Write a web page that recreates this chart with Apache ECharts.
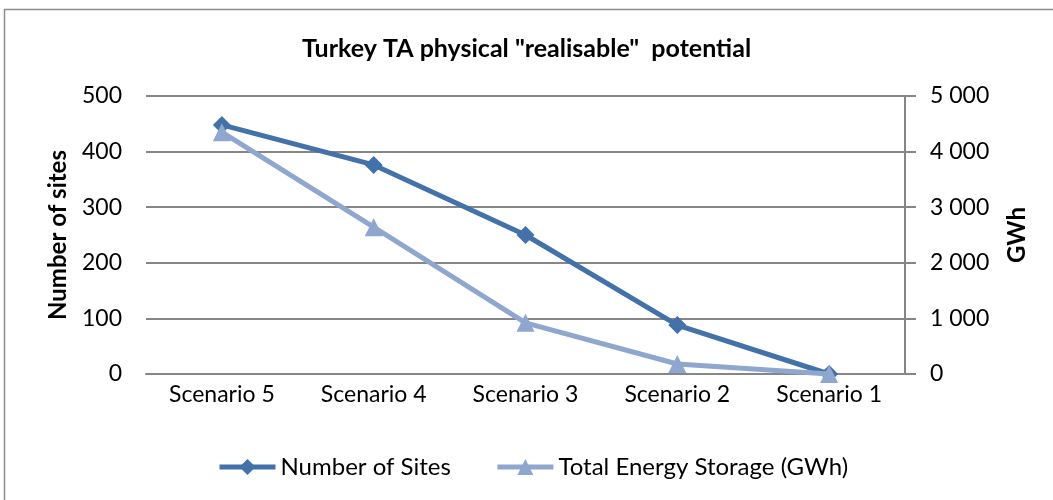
<!DOCTYPE html>
<html>
<head>
<meta charset="utf-8">
<script src="https://cdn.jsdelivr.net/npm/echarts@6/dist/echarts.min.js"></script>
<style>
  html, body { margin: 0; padding: 0; background: #fff; }
  #chart { width: 1053px; height: 500px; }
</style>
</head>
<body>
<div id="chart"></div>
<script>
const scenarios = ['Scenario 5', 'Scenario 4', 'Scenario 3', 'Scenario 2', 'Scenario 1']
const numberOfSites = [448, 376, 250, 88, 0]
const energyStorage = [4350, 2640, 920, 180, 0]
const leftTicks = { min: 0, max: 500, interval: 100 }
const rightTicks = { min: 0, max: 5000, interval: 1000 }

const FONT = 'Lato'
const axisGray = '#868686'

const chart = echarts.init(document.getElementById('chart'))

function spaced(v) {
  return String(v).replace(/\B(?=(\d{3})+(?!\d))/g, ' ')
}

chart.setOption({
  animation: false,
  textStyle: { fontFamily: FONT, color: '#000' },
  title: {
    text: 'Turkey TA physical "realisable"  potential',
    left: 'center',
    top: 31,
    textStyle: { fontFamily: FONT, fontSize: 25, fontWeight: 'bold', color: '#000' }
  },
  graphic: [{
    type: 'rect',
    shape: { x: 4.5, y: 9.5, width: 1100, height: 600 },
    style: { fill: 'none', stroke: '#8c8c8c', lineWidth: 1.5 },
    silent: true
  }],
  legend: {
    bottom: 16,
    left: 212,
    itemGap: 44,
    itemWidth: 56,
    itemHeight: 20,
    lineStyle: { width: 5 },
    textStyle: { fontFamily: FONT, fontSize: 24, color: '#000' },
    data: ['Number of Sites', 'Total Energy Storage (GWh)']
  },
  grid: { left: 146, right: 148, top: 96, bottom: 126 },
  xAxis: {
    type: 'category',
    data: scenarios,
    boundaryGap: true,
    axisLine: { show: true, lineStyle: { color: axisGray, width: 2 } },
    axisTick: { show: false },
    axisLabel: { fontFamily: FONT, fontSize: 23, color: '#000', margin: 9 }
  },
  yAxis: [
    {
      type: 'value',
      ...leftTicks,
      name: 'Number of sites',
      nameLocation: 'middle',
      nameGap: 76,
      nameTextStyle: { fontFamily: FONT, fontSize: 24, fontWeight: 'bold', color: '#000' },
      axisLine: { show: false },
      axisTick: { show: false },
      axisLabel: { fontFamily: FONT, fontSize: 23, color: '#000', margin: 24 },
      splitLine: { lineStyle: { color: axisGray, width: 2 } }
    },
    {
      type: 'value',
      ...rightTicks,
      position: 'right',
      name: 'GWh',
      nameLocation: 'middle',
      nameGap: 100,
      nameRotate: 90,
      nameTextStyle: { fontFamily: FONT, fontSize: 24, fontWeight: 'bold', color: '#000' },
      axisLine: { show: true, lineStyle: { color: axisGray, width: 2 } },
      axisTick: { show: true, length: 11, lineStyle: { color: axisGray, width: 2 } },
      axisLabel: { fontFamily: FONT, fontSize: 23, color: '#000', margin: 25, formatter: spaced },
      splitLine: { show: false }
    }
  ],
  series: [
    {
      name: 'Number of Sites',
      type: 'line',
      yAxisIndex: 0,
      data: numberOfSites,
      symbol: 'diamond',
      symbolSize: 18,
      lineStyle: { color: '#4371A9', width: 5 },
      itemStyle: { color: '#4371A9' },
      z: 2
    },
    {
      name: 'Total Energy Storage (GWh)',
      type: 'line',
      yAxisIndex: 1,
      data: energyStorage,
      symbol: 'triangle',
      symbolSize: 18,
      lineStyle: { color: '#8FA6CF', width: 5 },
      itemStyle: { color: '#8FA6CF' },
      z: 3
    }
  ]
})
</script>
</body>
</html>
